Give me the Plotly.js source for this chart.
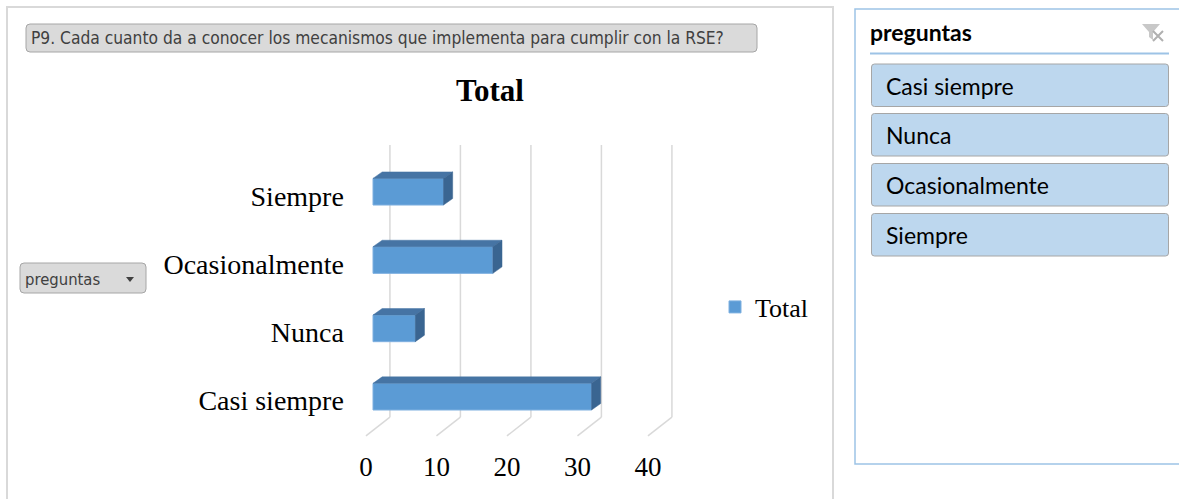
<!DOCTYPE html>
<html>
<head>
<meta charset="utf-8">
<script src="https://cdn.plot.ly/plotly-3.0.1.min.js"></script>
<style>html,body{margin:0;padding:0;background:#fff;}#chart{width:1179px;height:499px;}</style>
</head>
<body>
<div id="chart"></div>
<script>
// ---- data ----
const categories = ["Casi siempre", "Nunca", "Ocasionalmente", "Siempre"];
const totals = [31, 6, 17, 10];
const xTicks = [0, 10, 20, 30, 40];
const seriesName = "Total";
const chartTitle = "Total";
const fieldName = "preguntas";
const questionText = "P9. Cada cuanto da a conocer los mecanismos que implementa para cumplir con la RSE?";
const slicerItems = ["Casi siempre", "Nunca", "Ocasionalmente", "Siempre"];

// ---- geometry helpers ----
const W = 1179, H = 499;
const px = x => x / W;
const py = y => 1 - y / H;

const barHalf = 0.195;   // half bar thickness (category units)
const dX = 1.3;          // 3D depth offset in value units
const dY = 0.095;        // 3D depth offset in category units
const backX = 2.4, frontX = -1.0, floorBack = -0.30, floorFront = -0.575, wallTop = 3.685;

const traces = [];
const idx = categories.map((c, i) => i);

// front faces
traces.push({type: 'bar', orientation: 'h', name: seriesName, x: totals, y: idx, base: 0,
  width: barHalf * 2, xaxis: 'x', yaxis: 'y',
  marker: {color: '#5b9bd5', line: {color: '#7eb0e0', width: 1}}, showlegend: true});

// top and side faces
totals.forEach((v, i) => {
  const t = i + barHalf, b = i - barHalf;
  traces.push({type: 'scatter', mode: 'lines', fill: 'toself', xaxis: 'x', yaxis: 'y',
    x: [0, v, v + dX, dX, 0], y: [t, t, t + dY, t + dY, t],
    fillcolor: '#4674a4', line: {color: '#4674a4', width: 0.5}, hoverinfo: 'skip', showlegend: false});
  traces.push({type: 'scatter', mode: 'lines', fill: 'toself', xaxis: 'x', yaxis: 'y',
    x: [v, v + dX, v + dX, v, v], y: [b, b + dY, t + dY, t, b],
    fillcolor: '#3a6591', line: {color: '#3a6591', width: 0.5}, hoverinfo: 'skip', showlegend: false});
});
// invisible trace to anchor xaxis2
traces.push({type: 'scatter', mode: 'markers', x: [xTicks[0]], y: [0], xaxis: 'x2', yaxis: 'y',
  marker: {opacity: 0}, hoverinfo: 'skip', showlegend: false});

function rrect(x0, y0, x1, y1, r) {
  const X0 = px(x0), X1 = px(x1), Y0 = py(y0), Y1 = py(y1), rx = r / W, ry = r / H;
  return `M${X0 + rx},${Y0} L${X1 - rx},${Y0} Q${X1},${Y0} ${X1},${Y0 - ry} L${X1},${Y1 + ry} Q${X1},${Y1} ${X1 - rx},${Y1} L${X0 + rx},${Y1} Q${X0},${Y1} ${X0},${Y1 + ry} L${X0},${Y0 - ry} Q${X0},${Y0} ${X0 + rx},${Y0} Z`;
}

const shapes = [
  // chart area border
  {type: 'rect', xref: 'paper', yref: 'paper', x0: px(7), x1: px(833), y0: py(7), y1: py(505),
    line: {color: '#d9d9d9', width: 2}, fillcolor: 'rgba(0,0,0,0)', layer: 'below'},
  // question button
  {type: 'path', xref: 'paper', yref: 'paper', path: rrect(26, 24, 757, 52, 4),
    fillcolor: '#dadada', line: {color: '#a6a6a6', width: 1}},
  // field button
  {type: 'path', xref: 'paper', yref: 'paper', path: rrect(20, 263, 146, 293, 4),
    fillcolor: '#dadada', line: {color: '#a6a6a6', width: 1}},
  {type: 'path', xref: 'paper', yref: 'paper',
    path: `M${px(126)},${py(277)} L${px(134)},${py(277)} L${px(130)},${py(282)} Z`,
    fillcolor: '#404040', line: {width: 0}},
  // slicer panel
  {type: 'rect', xref: 'paper', yref: 'paper', x0: px(855), x1: px(1185), y0: py(9), y1: py(464),
    line: {color: '#9dc3e6', width: 1.5}, fillcolor: '#ffffff'},
  {type: 'line', xref: 'paper', yref: 'paper', x0: px(870), x1: px(1169), y0: py(53.5), y1: py(53.5),
    line: {color: '#9dc3e6', width: 2}},
  // filter icon
  {type: 'path', xref: 'paper', yref: 'paper',
    path: `M${px(1142)},${py(24)} L${px(1160)},${py(24)} L${px(1153)},${py(32)} L${px(1153)},${py(40)} L${px(1149)},${py(37)} L${px(1149)},${py(32)} Z`,
    fillcolor: '#c8c8c8', line: {width: 0}},
  {type: 'path', xref: 'paper', yref: 'paper',
    path: `M${px(1153)},${py(31)} L${px(1163)},${py(41)} M${px(1163)},${py(31)} L${px(1153)},${py(41)}`,
    line: {color: '#b0b0b0', width: 2}}
];

// gridlines (back wall + floor), beneath the bars
xTicks.forEach(v => {
  shapes.push({type: 'line', xref: 'x', yref: 'y', layer: 'below', x0: v + frontX, y0: floorFront,
    x1: v + backX, y1: floorBack, line: {color: '#d9d9d9', width: 1.5}});
  shapes.push({type: 'line', xref: 'x', yref: 'y', layer: 'below', x0: v + backX, y0: floorBack,
    x1: v + backX, y1: wallTop, line: {color: '#d9d9d9', width: 1.5}});
});

const itemTops = [64, 113.5, 163.5, 213.5];
const annotations = [
  {xref: 'paper', yref: 'paper', x: px(29), y: py(38), xanchor: 'left', yanchor: 'middle', showarrow: false,
    text: questionText, font: {family: 'DejaVu Sans Condensed', size: 17.25, color: '#404040'}},
  {xref: 'paper', yref: 'paper', x: px(23), y: py(279), xanchor: 'left', yanchor: 'middle', showarrow: false,
    text: fieldName, font: {family: 'DejaVu Sans Condensed', size: 16.5, color: '#404040'}},
  {xref: 'paper', yref: 'paper', x: px(868), y: py(32), xanchor: 'left', yanchor: 'middle', showarrow: false,
    text: '<b>' + fieldName + '</b>', font: {family: 'Lato', size: 23, color: '#000'}}
];
slicerItems.forEach((s, i) => {
  const t = itemTops[i];
  shapes.push({type: 'path', xref: 'paper', yref: 'paper', path: rrect(871.5, t, 1168.5, t + 42.5, 3),
    fillcolor: '#bdd7ee', line: {color: '#a6a6a6', width: 1}});
  annotations.push({xref: 'paper', yref: 'paper', x: px(884), y: py(t + 21.5), xanchor: 'left', yanchor: 'middle',
    showarrow: false, text: s, font: {family: 'Lato', size: 23, color: '#000'}});
});

const layout = {
  width: W, height: H,
  margin: {l: 0, r: 0, t: 0, b: 0, pad: 0},
  paper_bgcolor: '#ffffff', plot_bgcolor: 'rgba(0,0,0,0)',
  title: {text: '<b>' + chartTitle + '</b>', font: {family: 'Liberation Serif', size: 31, color: '#000'},
    x: px(490), xanchor: 'center', y: py(90), yanchor: 'middle'},
  xaxis: {domain: [px(373 - 3 * 7.05), px(373 + 45 * 7.05)], range: [-3, 45], showgrid: false, zeroline: false,
    showline: false, showticklabels: false, fixedrange: true},
  xaxis2: {overlaying: 'x', anchor: 'free', position: py(448), side: 'bottom', range: [-2, 46],
    tickmode: 'array', tickvals: xTicks, ticktext: xTicks.map(String), showgrid: false, zeroline: false,
    showline: false, ticks: '', tickfont: {family: 'Liberation Serif', size: 27, color: '#000'}},
  yaxis: {domain: [py(444.5), py(143.9)], range: [-0.7, 3.7], tickmode: 'array', tickvals: idx,
    ticktext: categories, showgrid: false, zeroline: false, showline: false, ticks: '',
    ticklabelstandoff: 7, ticklabelshift: 4,
    tickfont: {family: 'Liberation Serif', size: 28, color: '#000'}},
  showlegend: true,
  legend: {x: px(715), y: py(307), xanchor: 'left', yanchor: 'middle', bgcolor: 'rgba(0,0,0,0)',
    font: {family: 'Liberation Serif', size: 26, color: '#000'}},
  shapes: shapes, annotations: annotations
};

Plotly.newPlot('chart', traces, layout, {displayModeBar: false, staticPlot: true});
</script>
</body>
</html>
